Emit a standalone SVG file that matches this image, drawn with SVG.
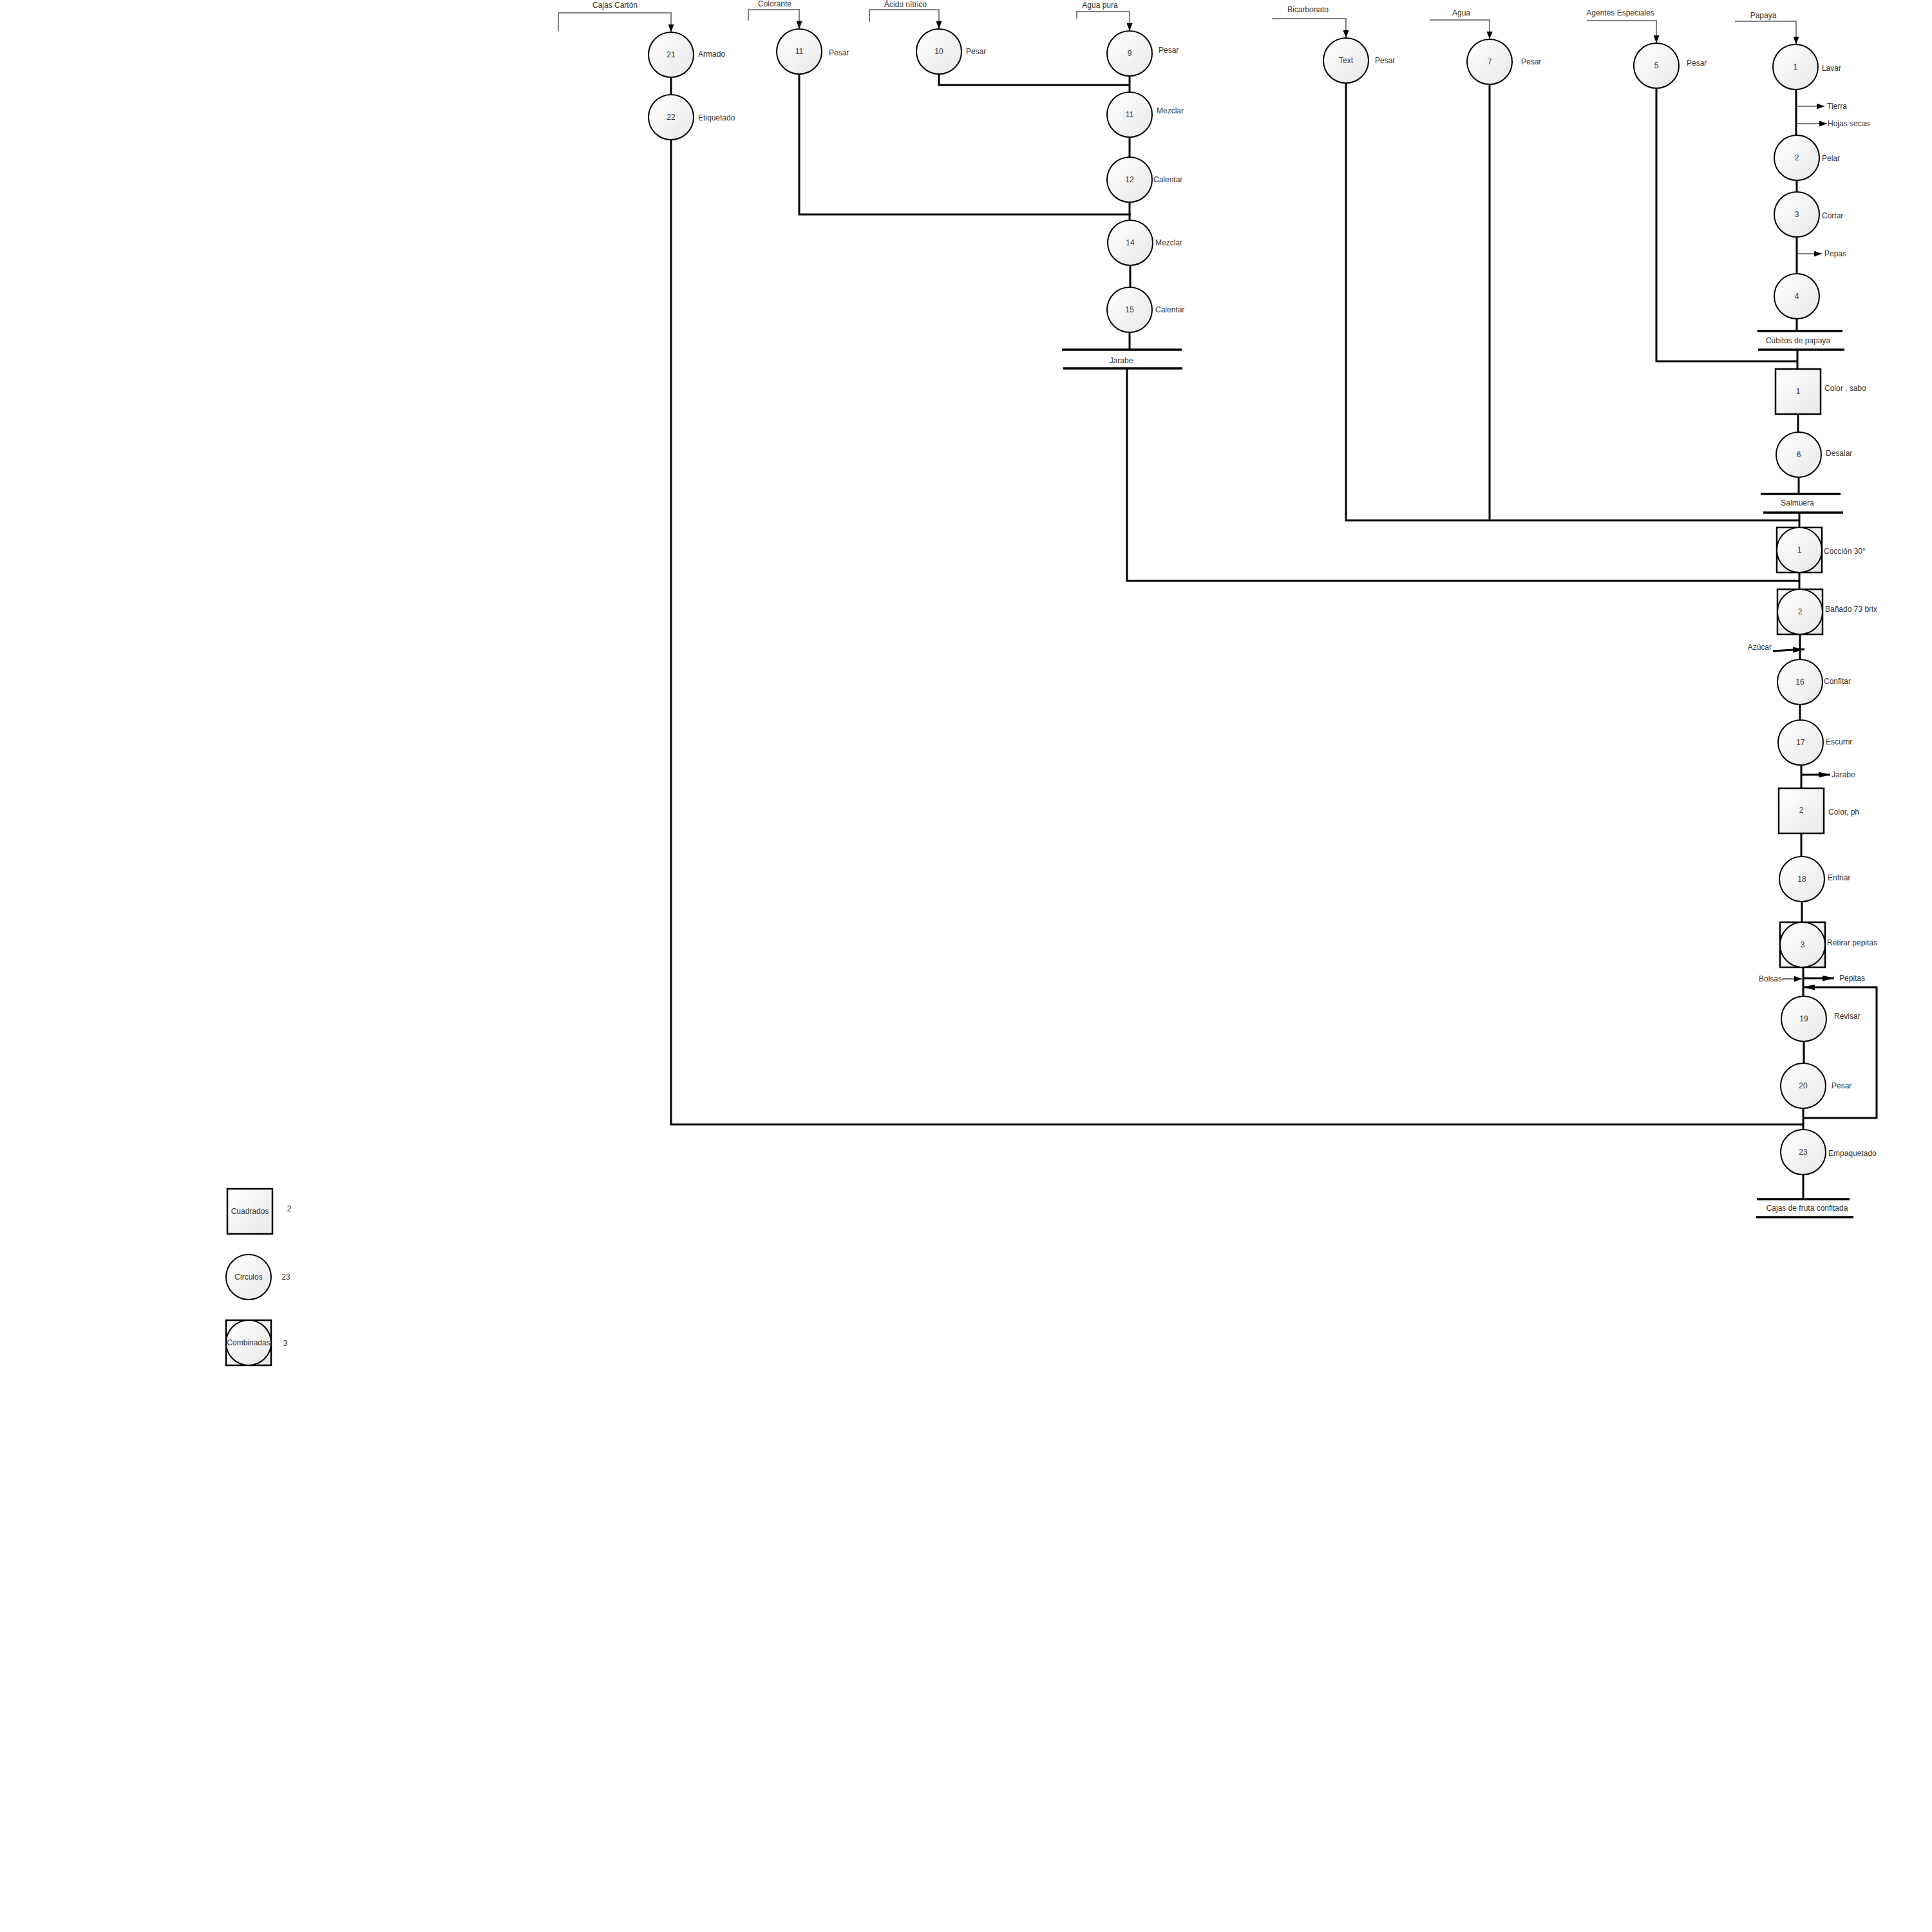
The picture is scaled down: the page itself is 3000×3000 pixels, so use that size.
<svg xmlns="http://www.w3.org/2000/svg" width="3000" height="3000" viewBox="0 0 3000 3000">
<style>
text{font-family:"Liberation Sans",Arial,sans-serif;font-size:12px;fill:#333}
.m{text-anchor:middle}
.e{text-anchor:end}
.sh{fill:url(#g);stroke:#000;stroke-width:2.5}
.cc{fill:url(#g);stroke:#000;stroke-width:2}
.k{fill:none;stroke:#000;stroke-width:3}
.gin{fill:none;stroke:#808080;stroke-width:2}
.thin{fill:none;stroke:#000;stroke-width:1.2}
.bar{stroke:#000;stroke-width:3.5}
</style>
<defs>
<linearGradient id="g" x1="0" y1="0" x2="1" y2="1">
<stop offset="0" stop-color="#ffffff"/>
<stop offset="1" stop-color="#e8e8e8"/>
</linearGradient>
<marker id="a" markerUnits="userSpaceOnUse" markerWidth="12" markerHeight="9" refX="12" refY="4.5" orient="auto">
<path d="M0,0 L12,4.5 L0,9 z" fill="#000"/>
</marker>
<marker id="ab" markerUnits="userSpaceOnUse" markerWidth="18" markerHeight="9" refX="18" refY="4.5" orient="auto">
<path d="M0,0 L18,4.5 L0,9 z" fill="#000"/>
</marker>
</defs>
<rect width="3000" height="3000" fill="#fff"/>

<g id="connectors">
<!-- input brackets -->
<path class="gin" d="M867,48 V20 H1042 V50" marker-end="url(#a)"/>
<path class="gin" d="M1162,32 V15 H1241 V45" marker-end="url(#a)"/>
<path class="gin" d="M1350,34 V15 H1458 V45" marker-end="url(#a)"/>
<path class="gin" d="M1672,29 V18 H1754 V48" marker-end="url(#a)"/>
<path class="gin" d="M1975,29 H2090 V59" marker-end="url(#a)"/>
<path class="gin" d="M2220,31 H2313 V61" marker-end="url(#a)"/>
<path class="gin" d="M2464,32 H2572 V67" marker-end="url(#a)"/>
<path class="gin" d="M2694,33 H2789 V69" marker-end="url(#a)"/>
<!-- agua pura column -->
<path class="k" d="M1754,118 V143"/>
<path class="k" d="M1754,213 V244"/>
<path class="k" d="M1754,314 V342"/>
<path class="k" d="M1755,412 V446"/>
<path class="k" d="M1754,516 V543"/>
<path class="k" d="M1458,115 V132 H1754"/>
<path class="k" d="M1241,115 V333 H1756"/>
<line class="bar" x1="1649" y1="543" x2="1835" y2="543"/>
<line class="bar" x1="1651" y1="572" x2="1836" y2="572"/>
<path class="k" d="M1750,572 V902 H2794"/>
<!-- cajas carton -->
<path class="k" d="M1042,120 V147"/>
<path class="k" d="M1042,217 V1746 H2800"/>
<!-- bicarbonato / agua / agentes -->
<path class="k" d="M2090,129 V808 H2794"/>
<path class="k" d="M2313,131 V808"/>
<path class="k" d="M2572,137 V561 H2791"/>
<!-- main column -->
<path class="k" d="M2789,139 V210"/>
<path class="gin" d="M2790,165 H2833" marker-end="url(#a)"/>
<path class="thin" d="M2790,192 H2837" marker-end="url(#a)"/>
<path class="k" d="M2790,280 V298"/>
<path class="k" d="M2790,368 V425"/>
<path class="thin" d="M2790,394 H2829" marker-end="url(#a)"/>
<path class="k" d="M2790,495 V514"/>
<line class="bar" x1="2729" y1="514" x2="2861" y2="514"/>
<line class="bar" x1="2730" y1="543" x2="2864" y2="543"/>
<path class="k" d="M2791,543 V573"/>
<path class="k" d="M2792,643 V671"/>
<path class="k" d="M2793,741 V767"/>
<line class="bar" x1="2734" y1="767" x2="2858" y2="767"/>
<line class="bar" x1="2738" y1="796" x2="2862" y2="796"/>
<path class="k" d="M2794,796 V819"/>
<path class="k" d="M2794,889 V915"/>
<path class="k" d="M2795,985 V1024"/>
<path class="k" d="M2753,1011 L2802,1008" marker-end="url(#ab)"/>
<path class="k" d="M2795,1094 V1118"/>
<path class="k" d="M2797,1188 V1224"/>
<path class="k" d="M2797,1203 H2842" marker-end="url(#ab)"/>
<path class="k" d="M2797,1294 V1330"/>
<path class="k" d="M2798,1400 V1432"/>
<path class="k" d="M2800,1502 V1547"/>
<path class="thin" d="M2767,1520 H2798" marker-end="url(#a)"/>
<path class="k" d="M2800,1519 H2848" marker-end="url(#ab)"/>
<path class="k" d="M2800,1736 H2914 V1533 H2800" marker-end="url(#ab)"/>
<path class="k" d="M2801,1617 V1651"/>
<path class="k" d="M2800,1721 V1754"/>
<path class="k" d="M2800,1824 V1862"/>
<line class="bar" x1="2728" y1="1862" x2="2872" y2="1862"/>
<line class="bar" x1="2727" y1="1890" x2="2878" y2="1890"/>
</g>

<g id="input-labels">
<text class="m" x="955" y="12">Cajas Cartón</text>
<text class="m" x="1203" y="10">Colorante</text>
<text class="m" x="1406" y="11">Ácido nítrico</text>
<text class="m" x="1708" y="12">Agua pura</text>
<text class="m" x="2031" y="19">Bicarbonato</text>
<text class="m" x="2269" y="24">Agua</text>
<text class="m" x="2516" y="24">Agentes Especiales</text>
<text class="m" x="2738" y="28">Papaya</text>
</g>

<g id="flow-labels">
<text class="m" x="1741" y="564">Jarabe</text>
<text x="2837" y="169">Tierra</text>
<text x="2838" y="196">Hojas secas</text>
<text x="2833" y="398">Pepas</text>
<text class="m" x="2792" y="533">Cubitos de papaya</text>
<text class="m" x="2791" y="785">Salmuera</text>
<text class="e" x="2751" y="1009">Azúcar</text>
<text x="2844" y="1207">Jarabe</text>
<text class="e" x="2767" y="1524">Bolsas</text>
<text x="2856" y="1523">Pepitas</text>
<text class="m" x="2806" y="1880">Cajas de fruta confitada</text>
</g>

<g id="n21"><circle class="cc" cx="1042" cy="85" r="35"/><text class="m" x="1042" y="89">21</text><text x="1084" y="88">Armado</text></g>
<g id="n22"><circle class="cc" cx="1042" cy="182" r="35"/><text class="m" x="1042" y="186">22</text><text x="1084" y="187">Etiquetado</text></g>
<g id="n11a"><circle class="cc" cx="1241" cy="80" r="35"/><text class="m" x="1241" y="84">11</text><text x="1287" y="86">Pesar</text></g>
<g id="n10"><circle class="cc" cx="1458" cy="80" r="35"/><text class="m" x="1458" y="84">10</text><text x="1500" y="84">Pesar</text></g>
<g id="n9"><circle class="cc" cx="1754" cy="83" r="35"/><text class="m" x="1754" y="87">9</text><text x="1799" y="82">Pesar</text></g>
<g id="n11b"><circle class="cc" cx="1754" cy="178" r="35"/><text class="m" x="1754" y="182">11</text><text x="1796" y="176">Mezclar</text></g>
<g id="n12"><circle class="cc" cx="1754" cy="279" r="35"/><text class="m" x="1754" y="283">12</text><text x="1791" y="283">Calentar</text></g>
<g id="n14"><circle class="cc" cx="1755" cy="377" r="35"/><text class="m" x="1755" y="381">14</text><text x="1794" y="381">Mezclar</text></g>
<g id="n15"><circle class="cc" cx="1754" cy="481" r="35"/><text class="m" x="1754" y="485">15</text><text x="1794" y="485">Calentar</text></g>
<g id="nText"><circle class="cc" cx="2090" cy="94" r="35"/><text class="m" x="2090" y="98">Text</text><text x="2135" y="98">Pesar</text></g>
<g id="n7"><circle class="cc" cx="2313" cy="96" r="35"/><text class="m" x="2313" y="100">7</text><text x="2362" y="100">Pesar</text></g>
<g id="n5"><circle class="cc" cx="2572" cy="102" r="35"/><text class="m" x="2572" y="106">5</text><text x="2619" y="102">Pesar</text></g>
<g id="n1"><circle class="cc" cx="2788" cy="104" r="35"/><text class="m" x="2788" y="108">1</text><text x="2829" y="110">Lavar</text></g>
<g id="n2"><circle class="cc" cx="2790" cy="245" r="35"/><text class="m" x="2790" y="249">2</text><text x="2829" y="250">Pelar</text></g>
<g id="n3"><circle class="cc" cx="2790" cy="333" r="35"/><text class="m" x="2790" y="337">3</text><text x="2829" y="339">Cortar</text></g>
<g id="n4"><circle class="cc" cx="2790" cy="460" r="35"/><text class="m" x="2790" y="464">4</text></g>
<g id="sq1"><rect class="sh" x="2757" y="573" width="70" height="70"/><text class="m" x="2792" y="612">1</text><text x="2833" y="607">Color , sabo</text></g>
<g id="n6"><circle class="cc" cx="2793" cy="706" r="35"/><text class="m" x="2793" y="710">6</text><text x="2835" y="708">Desalar</text></g>
<g id="cb1"><rect class="sh" x="2759" y="819" width="70" height="70"/><circle class="cc" cx="2794" cy="854" r="35"/><text class="m" x="2794" y="858">1</text><text x="2832" y="860">Cocción 30°</text></g>
<g id="cb2"><rect class="sh" x="2760" y="915" width="70" height="70"/><circle class="cc" cx="2795" cy="950" r="35"/><text class="m" x="2795" y="954">2</text><text x="2834" y="950">Bañado 73 brix</text></g>
<g id="n16"><circle class="cc" cx="2795" cy="1059" r="35"/><text class="m" x="2795" y="1063">16</text><text x="2832" y="1062">Confitar</text></g>
<g id="n17"><circle class="cc" cx="2796" cy="1153" r="35"/><text class="m" x="2796" y="1157">17</text><text x="2835" y="1156">Escurrir</text></g>
<g id="sq2"><rect class="sh" x="2762" y="1224" width="70" height="70"/><text class="m" x="2797" y="1262">2</text><text x="2839" y="1265">Color, ph</text></g>
<g id="n18"><circle class="cc" cx="2798" cy="1365" r="35"/><text class="m" x="2798" y="1369">18</text><text x="2838" y="1367">Enfriar</text></g>
<g id="cb3"><rect class="sh" x="2764" y="1432" width="70" height="70"/><circle class="cc" cx="2799" cy="1467" r="35"/><text class="m" x="2799" y="1471">3</text><text x="2837" y="1468">Retirar pepitas</text></g>
<g id="n19"><circle class="cc" cx="2801" cy="1582" r="35"/><text class="m" x="2801" y="1586">19</text><text x="2848" y="1582">Revisar</text></g>
<g id="n20"><circle class="cc" cx="2800" cy="1686" r="35"/><text class="m" x="2800" y="1690">20</text><text x="2844" y="1690">Pesar</text></g>
<g id="n23"><circle class="cc" cx="2800" cy="1789" r="35"/><text class="m" x="2800" y="1793">23</text><text x="2839" y="1795">Empaquetado</text></g>

<g id="legend-squares"><rect class="sh" x="353" y="1846" width="70" height="70"/><text class="m" x="388" y="1885">Cuadrados</text><text class="m" x="449" y="1881">2</text></g>
<g id="legend-circles"><circle class="cc" cx="386" cy="1983" r="35"/><text class="m" x="386" y="1987">Circulos</text><text class="m" x="444" y="1987">23</text></g>
<g id="legend-combined"><rect class="sh" x="351" y="2050" width="70" height="70"/><circle class="cc" cx="386" cy="2085" r="35"/><text class="m" x="386" y="2089">Combinadas</text><text class="m" x="443" y="2090">3</text></g>
</svg>
